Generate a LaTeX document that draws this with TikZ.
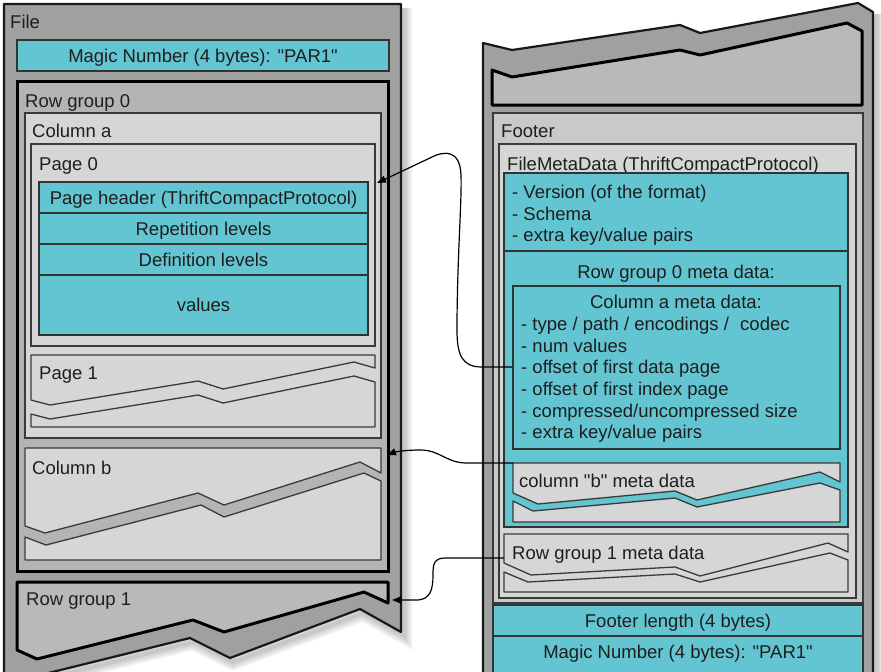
\documentclass[tikz,border=0pt]{standalone}
\usepackage{fontspec}
\setmainfont{Liberation Sans}
\usetikzlibrary{arrows.meta,fit}
\definecolor{gfile}{HTML}{A0A0A0}
\definecolor{grg}{HTML}{B4B4B4}
\definecolor{grgone}{HTML}{B9B9B9}
\definecolor{glight}{HTML}{D6D6D6}
\definecolor{gfooter}{HTML}{C9C9C9}
\definecolor{cyanc}{HTML}{63C5D1}
\definecolor{edge}{HTML}{3A3A3A}
\definecolor{txt}{HTML}{1E1E1E}
\newcommand{\qq}{\textquotedbl}
\begin{document}
\begin{tikzpicture}[x=1pt,y=-1pt,
  every node/.style={font=\fontsize{18.5}{21.7}\selectfont, text=txt},
  bx/.style={inner sep=0pt, rectangle},
  outerbox/.style={fill=gfile, draw=black!90, line width=2.2pt, line join=round},
  rgbox/.style={fill=grg, draw=black, line width=3pt},
  rgonebox/.style={fill=grgone, draw=black, line width=3pt, line join=round},
  lightbox/.style={fill=glight, draw=edge, line width=1.3pt},
  footbox/.style={fill=gfooter, draw=edge, line width=1.3pt},
  cybox/.style={fill=cyanc, draw=black!80, line width=1.5pt},
  lbl/.style={anchor=base west, inner sep=0pt},
  clbl/.style={anchor=base, inner sep=0pt},
  conn/.style={draw=black, line width=1.2pt, -{Triangle[length=9pt,width=7pt]}},
  shadowline/.style={draw=black, opacity=0.06, line width=#1}
]
\useasboundingbox (0,0) rectangle (881,672);

% ---------- soft shadows ----------
\foreach \w in {16,12,8,4}{
  \draw[shadowline=\w pt] (404,8) -- (404,636) -- (363,613) -- (233,662) -- (193,642) -- (8,688);
  \draw[shadowline=\w pt] (876,14) -- (876,690);
}

% ---------- left file ----------
\path[outerbox] (4,4) -- (401,4) -- (401,632) -- (360,609) -- (230,658) -- (190,638) -- (4,684) -- cycle;
\node[lbl] (filelbl) at (10,28) {File};
\node[bx, cybox, fit={(17,40) (389,71)}] (magicL) {};
\node[clbl] (magicLlbl) at (203,62) {Magic Number (4 bytes): \qq PAR1\qq};

\node[bx, rgbox, fit={(17,81) (388,571)}] (rg0) {};
\node[lbl] (rg0lbl) at (25,107) {Row group 0};

\node[bx, lightbox, fit={(25,113) (381,438)}] (cola) {};
\node[lbl] (colalbl) at (32,137) {Column a};

\node[bx, lightbox, fit={(31,144) (375,346)}] (page0) {};
\node[lbl] (page0lbl) at (39,170) {Page 0};
\node[bx, cybox, fit={(39,182) (368,213)}] (ph) {};
\node[bx, cybox, fit={(39,213) (368,244)}] (rep) {};
\node[bx, cybox, fit={(39,244) (368,275)}] (def) {};
\node[bx, cybox, fit={(39,275) (368,335)}] (vals) {};
\node[clbl] (phlbl) at (203.5,204) {Page header (ThriftCompactProtocol)};
\node[clbl] (replbl) at (203.5,235) {Repetition levels};
\node[clbl] (deflbl) at (203.5,266) {Definition levels};
\node[clbl] (valslbl) at (203.5,311) {values};

% page 1 (broken)
\path[lightbox, line join=round] (31,355) -- (375,355) -- (375,368) -- (354,362) -- (223,389) -- (198,381) -- (50,405) -- (31,400) -- cycle;
\path[lightbox, line join=round] (31,414) -- (50,419) -- (198,395) -- (223,403) -- (354,376) -- (375,382) -- (375,427) -- (31,427) -- cycle;
\node[lbl] (page1lbl) at (39,379) {Page 1};

% column b (broken)
\path[lightbox, line join=round] (25,448) -- (381,448) -- (381,473) -- (360,462) -- (224,505) -- (198,493) -- (45,533) -- (25,526) -- cycle;
\path[lightbox, line join=round] (25,537) -- (46,545) -- (201,505) -- (224,517) -- (364,473) -- (381,481) -- (381,560) -- (25,560) -- cycle;
\node[lbl] (colblbl) at (32,474) {Column b};

% row group 1 (broken)
\path[rgonebox] (17,582) -- (388,582) -- (388,603) -- (364,592) -- (224,632) -- (193,620) -- (37,659) -- (17,650) -- cycle;
\node[lbl] (rg1lbl) at (26,605) {Row group 1};

% ---------- right file end ----------
\path[outerbox] (483,43) -- (512,50) -- (680,25) -- (700,33) -- (858,3) -- (873,12) -- (873,690) -- (483,690) -- cycle;
\path[rgonebox] (492,70) -- (512,77) -- (680,50) -- (700,55) -- (847,23) -- (862,31) -- (862,105) -- (492,105) -- cycle;

\node[bx, footbox, fit={(493,113) (863,603)}] (footer) {};
\node[lbl] (footerlbl) at (501,137) {Footer};
\node[bx, lightbox, fit={(499,144) (856,598)}] (fmd) {};
\node[lbl] (fmdlbl) at (507,170) {FileMetaData (ThriftCompactProtocol)};

\node[bx, cybox, fit={(504,173) (848,251)}] (fmdtop) {};
\node[lbl] (v1) at (512,198) {- Version (of the format)};
\node[lbl] (v2) at (512,220) {- Schema};
\node[lbl] (v3) at (512,241) {- extra key/value pairs};

\node[bx, cybox, fit={(504,251) (848,527)}] (rg0md) {};
\node[clbl] (rg0mdlbl) at (676,278) {Row group 0 meta data:};

\node[bx, cybox, fit={(513,286) (840,449)}] (camd) {};
\node[clbl] (camdlbl) at (676,308) {Column a meta data:};
\node[lbl] (c1) at (521,330) {- type / path / encodings /\,\, codec};
\node[lbl] (c2) at (521,352) {- num values};
\node[lbl] (c3) at (521,373) {- offset of first data page};
\node[lbl] (c4) at (521,395) {- offset of first index page};
\node[lbl] (c5) at (521,417) {- compressed/uncompressed size};
\node[lbl] (c6) at (521,438) {- extra key/value pairs};

% column b meta data (broken)
\path[lightbox, line join=round] (513,463) -- (840,463) -- (840,482) -- (820,472) -- (697,500) -- (675,491) -- (538,504) -- (513,493) -- cycle;
\path[lightbox, line join=round] (513,501) -- (533,511) -- (675,498) -- (697,507) -- (820,483) -- (840,490) -- (840,522) -- (513,522) -- cycle;
\node[lbl] (cbmdlbl) at (519,487) {column \qq b\qq{} meta data};

% row group 1 meta data (broken)
\path[lightbox, line join=round] (504,534) -- (848,534) -- (848,552) -- (828,543) -- (700,576) -- (675,567) -- (531,575) -- (504,563) -- cycle;
\path[lightbox, line join=round] (504,572) -- (528,582) -- (675,574) -- (700,582) -- (830,553) -- (848,560) -- (848,592) -- (504,592) -- cycle;
\node[lbl] (rg1mdlbl) at (512,559) {Row group 1 meta data};

\node[bx, cybox, fit={(493,605) (863,636)}] (flen) {};
\node[clbl] (flenlbl) at (678,627) {Footer length (4 bytes)};
\node[bx, cybox, fit={(493,636) (863,690)}] (magicR) {};
\node[clbl] (magicRlbl) at (678,658) {Magic Number (4 bytes): \qq PAR1\qq};

% ---------- connectors ----------
\coordinate (ca) at (camd.west |- 0,367);
\coordinate (p0) at (377,183);
\coordinate (cb) at (513,463);
\coordinate (colbend) at (387,455);
\coordinate (r1) at (504,558);
\coordinate (rg1end) at (392,600);

\draw[conn] (ca) -- (482,367) .. controls (462,367) and (457,355) .. (457,330)
  .. controls (457,260) and (462,200) .. (461,175)
  .. controls (460,150) and (445,150) .. (430,158) -- (p0);
\draw[conn] (cb) -- (465,463) .. controls (445,462) and (440,450) .. (420,450)
  .. controls (405,450) and (395,452) .. (colbend);
\draw[conn] (r1) -- (445,558) .. controls (433,558) and (433,566) .. (433,575)
  .. controls (433,590) and (430,599) .. (418,600) -- (rg1end);
\end{tikzpicture}
\end{document}
